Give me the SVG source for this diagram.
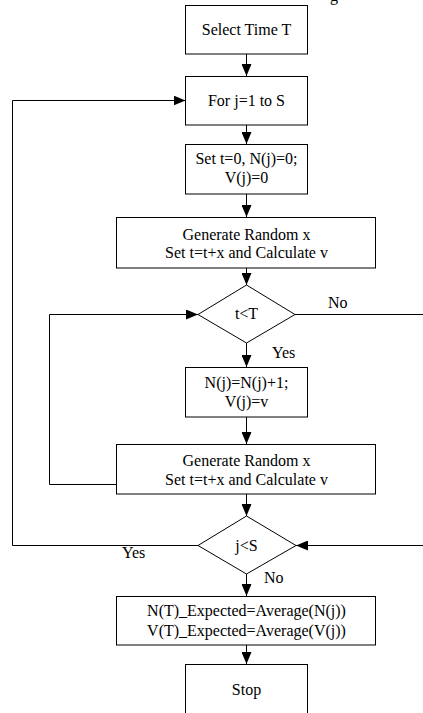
<svg xmlns="http://www.w3.org/2000/svg" width="423" height="713" viewBox="0 0 423 713">
<style>
.box{fill:#fff;stroke:#000;stroke-width:1}
.t{font-family:"Liberation Serif","Times New Roman",serif;font-size:16px;fill:#000;text-anchor:middle}
.l{font-family:"Liberation Serif","Times New Roman",serif;font-size:16px;fill:#000}
.c{fill:none;stroke:#000;stroke-width:1}
</style>
<defs>
<marker id="ah" markerUnits="userSpaceOnUse" markerWidth="12" markerHeight="10" refX="12" refY="5" orient="auto">
<path d="M0,0 L12,5 L0,10 Z" fill="#000"/>
</marker>
</defs>
<rect width="423" height="713" fill="#fff"/>
<text class="l" x="330" y="1">g</text>
<g id="connectors">
<line class="c" x1="246.5" y1="54" x2="246.5" y2="76" marker-end="url(#ah)"/>
<line class="c" x1="246.5" y1="125" x2="246.5" y2="144" marker-end="url(#ah)"/>
<line class="c" x1="246.5" y1="194" x2="246.5" y2="217" marker-end="url(#ah)"/>
<line class="c" x1="246.5" y1="268" x2="246.5" y2="285" marker-end="url(#ah)"/>
<line class="c" x1="246.5" y1="343" x2="246.5" y2="367" marker-end="url(#ah)"/>
<line class="c" x1="246.5" y1="417" x2="246.5" y2="444" marker-end="url(#ah)"/>
<line class="c" x1="246.5" y1="494" x2="246.5" y2="516" marker-end="url(#ah)"/>
<line class="c" x1="246.5" y1="574" x2="246.5" y2="596" marker-end="url(#ah)"/>
<line class="c" x1="246.5" y1="645" x2="246.5" y2="664" marker-end="url(#ah)"/>
<line class="c" x1="295" y1="314.5" x2="423" y2="314.5"/>
<polyline class="c" points="116.5,484.5 49.5,484.5 49.5,314.5 198,314.5" marker-end="url(#ah)"/>
<polyline class="c" points="198,545.5 12.5,545.5 12.5,100.5 185.5,100.5" marker-end="url(#ah)"/>
<line class="c" x1="423" y1="545.5" x2="296" y2="545.5" marker-end="url(#ah)"/>
<text class="l" x="328" y="308">No</text>
<text class="l" x="272" y="358">Yes</text>
<text class="l" x="122" y="558">Yes</text>
<text class="l" x="264" y="583">No</text>
</g>
<g id="select">
<rect class="box" x="185.5" y="5.5" width="122" height="48.5"/>
<text class="t" x="246.5" y="35">Select Time T</text>
</g>
<g id="forj">
<rect class="box" x="185.5" y="76.5" width="122" height="48.5"/>
<text class="t" x="246.5" y="106">For j=1 to S</text>
</g>
<g id="init">
<rect class="box" x="185.5" y="144.5" width="122" height="49.5"/>
<text class="t" x="246.5" y="164">Set t=0, N(j)=0;</text>
<text class="t" x="246.5" y="183">V(j)=0</text>
</g>
<g id="gen1">
<rect class="box" x="116.5" y="217.5" width="259" height="50.5"/>
<text class="t" x="246.5" y="239.5">Generate Random x</text>
<text class="t" x="246.5" y="258">Set t=t+x and Calculate v</text>
</g>
<g id="cond1">
<polygon class="box" points="246.5,285 295,314.5 246.5,343 198,314.5"/>
<text class="t" x="246.5" y="319">t&lt;T</text>
</g>
<g id="update">
<rect class="box" x="185.5" y="367.5" width="122" height="49.5"/>
<text class="t" x="246.5" y="387.5">N(j)=N(j)+1;</text>
<text class="t" x="246.5" y="406.5">V(j)=v</text>
</g>
<g id="gen2">
<rect class="box" x="116.5" y="444.5" width="259" height="49.5"/>
<text class="t" x="246.5" y="466">Generate Random x</text>
<text class="t" x="246.5" y="484.5">Set t=t+x and Calculate v</text>
</g>
<g id="cond2">
<polygon class="box" points="246.5,516 296,545.5 246.5,574 198,545.5"/>
<text class="t" x="246.5" y="551">j&lt;S</text>
</g>
<g id="expected">
<rect class="box" x="116.5" y="596.5" width="259" height="48.5"/>
<text class="t" x="246.5" y="616">N(T)_Expected=Average(N(j))</text>
<text class="t" x="246.5" y="636">V(T)_Expected=Average(V(j))</text>
</g>
<g id="stop">
<rect class="box" x="185.5" y="664.5" width="122" height="60"/>
<text class="t" x="246.5" y="695">Stop</text>
</g>
</svg>
